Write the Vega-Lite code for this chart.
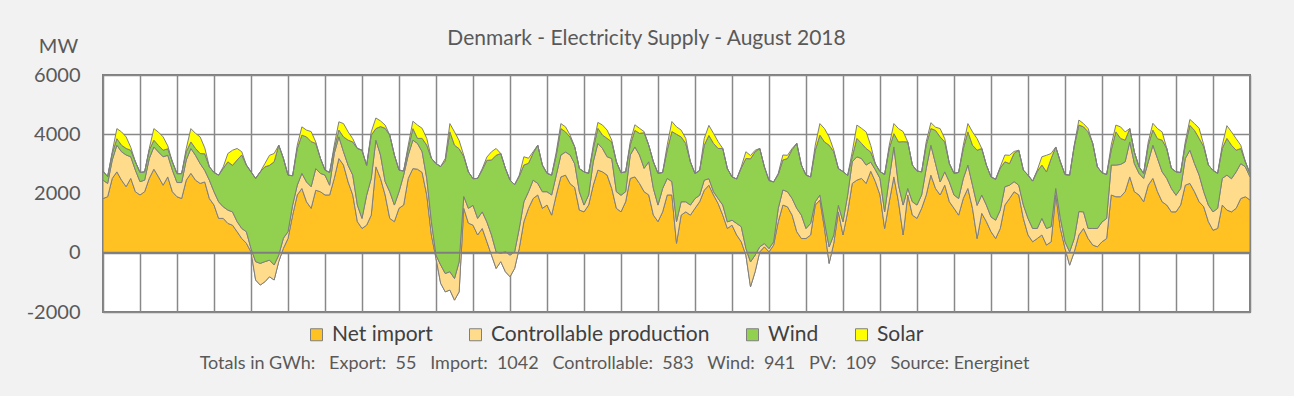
{
  "$schema": "https://vega.github.io/schema/vega-lite/v6.json",
  "width": 1147,
  "height": 237,
  "autosize": {"type": "none"},
  "padding": {"left": 103, "top": 75, "right": 44, "bottom": 84},
  "background": "#f2f2f2",
  "title": {"text": "Denmark - Electricity Supply - August 2018", "font": "Lato", "fontSize": 21, "fontWeight": "normal", "color": "#595959", "anchor": "middle", "offset": 0, "dy": 13, "dx": -30},
  "data": {"values": [
    {"hour":0,"imp":1830,"ctrl":620,"wind":300,"pv":0},
    {"hour":3,"imp":1890,"ctrl":450,"wind":230,"pv":0},
    {"hour":6,"imp":2510,"ctrl":620,"wind":220,"pv":60},
    {"hour":9,"imp":2730,"ctrl":900,"wind":220,"pv":340},
    {"hour":12,"imp":2450,"ctrl":960,"wind":220,"pv":450},
    {"hour":15,"imp":2230,"ctrl":1070,"wind":220,"pv":390},
    {"hour":18,"imp":2510,"ctrl":730,"wind":220,"pv":100},
    {"hour":21,"imp":2060,"ctrl":730,"wind":280,"pv":0},
    {"hour":24,"imp":1950,"ctrl":450,"wind":310,"pv":0},
    {"hour":27,"imp":2060,"ctrl":390,"wind":280,"pv":0},
    {"hour":30,"imp":2510,"ctrl":670,"wind":280,"pv":60},
    {"hour":33,"imp":2820,"ctrl":750,"wind":230,"pv":390},
    {"hour":36,"imp":2560,"ctrl":840,"wind":220,"pv":450},
    {"hour":39,"imp":2280,"ctrl":960,"wind":220,"pv":450},
    {"hour":42,"imp":2560,"ctrl":730,"wind":220,"pv":100},
    {"hour":45,"imp":2060,"ctrl":730,"wind":280,"pv":0},
    {"hour":48,"imp":1890,"ctrl":480,"wind":300,"pv":0},
    {"hour":51,"imp":1830,"ctrl":540,"wind":300,"pv":0},
    {"hour":54,"imp":2450,"ctrl":680,"wind":280,"pv":110},
    {"hour":57,"imp":2680,"ctrl":840,"wind":220,"pv":450},
    {"hour":60,"imp":2450,"ctrl":840,"wind":230,"pv":510},
    {"hour":63,"imp":2340,"ctrl":670,"wind":340,"pv":560},
    {"hour":66,"imp":2390,"ctrl":390,"wind":560,"pv":200},
    {"hour":69,"imp":1830,"ctrl":620,"wind":450,"pv":0},
    {"hour":72,"imp":1610,"ctrl":450,"wind":650,"pv":0},
    {"hour":75,"imp":1160,"ctrl":560,"wind":900,"pv":0},
    {"hour":78,"imp":1160,"ctrl":390,"wind":1300,"pv":50},
    {"hour":81,"imp":990,"ctrl":450,"wind":1630,"pv":280},
    {"hour":84,"imp":930,"ctrl":450,"wind":1570,"pv":510},
    {"hour":87,"imp":710,"ctrl":340,"wind":2080,"pv":390},
    {"hour":90,"imp":480,"ctrl":340,"wind":2480,"pv":110},
    {"hour":93,"imp":320,"ctrl":390,"wind":2250,"pv":0},
    {"hour":96,"imp":30,"ctrl":110,"wind":2590,"pv":0},
    {"hour":99,"imp":-920,"ctrl":620,"wind":2810,"pv":0},
    {"hour":102,"imp":-1090,"ctrl":730,"wind":3090,"pv":0},
    {"hour":105,"imp":-980,"ctrl":680,"wind":3200,"pv":110},
    {"hour":108,"imp":-810,"ctrl":560,"wind":3200,"pv":340},
    {"hour":111,"imp":-920,"ctrl":510,"wind":3480,"pv":280},
    {"hour":114,"imp":-300,"ctrl":220,"wind":3710,"pv":0},
    {"hour":117,"imp":150,"ctrl":340,"wind":2700,"pv":0},
    {"hour":120,"imp":480,"ctrl":230,"wind":1910,"pv":0},
    {"hour":123,"imp":1270,"ctrl":340,"wind":990,"pv":0},
    {"hour":126,"imp":1950,"ctrl":330,"wind":1240,"pv":110},
    {"hour":129,"imp":2170,"ctrl":510,"wind":1290,"pv":280},
    {"hour":132,"imp":1720,"ctrl":670,"wind":1520,"pv":230},
    {"hour":135,"imp":1500,"ctrl":730,"wind":1520,"pv":340},
    {"hour":138,"imp":2110,"ctrl":730,"wind":850,"pv":50},
    {"hour":141,"imp":2060,"ctrl":620,"wind":510,"pv":0},
    {"hour":144,"imp":1950,"ctrl":670,"wind":170,"pv":0},
    {"hour":147,"imp":1950,"ctrl":330,"wind":430,"pv":0},
    {"hour":150,"imp":2510,"ctrl":840,"wind":170,"pv":110},
    {"hour":153,"imp":3180,"ctrl":730,"wind":230,"pv":280},
    {"hour":156,"imp":2960,"ctrl":450,"wind":500,"pv":450},
    {"hour":159,"imp":2390,"ctrl":560,"wind":850,"pv":280},
    {"hour":162,"imp":1950,"ctrl":670,"wind":1120,"pv":110},
    {"hour":165,"imp":1050,"ctrl":560,"wind":1910,"pv":0},
    {"hour":168,"imp":820,"ctrl":340,"wind":2300,"pv":0},
    {"hour":171,"imp":930,"ctrl":1010,"wind":1010,"pv":0},
    {"hour":174,"imp":1270,"ctrl":1240,"wind":1460,"pv":110},
    {"hour":177,"imp":2900,"ctrl":900,"wind":390,"pv":360},
    {"hour":180,"imp":2510,"ctrl":790,"wind":960,"pv":190},
    {"hour":183,"imp":1950,"ctrl":450,"wind":1800,"pv":110},
    {"hour":186,"imp":1160,"ctrl":900,"wind":1910,"pv":0},
    {"hour":189,"imp":1050,"ctrl":560,"wind":1690,"pv":0},
    {"hour":192,"imp":1500,"ctrl":560,"wind":730,"pv":0},
    {"hour":195,"imp":1610,"ctrl":1010,"wind":140,"pv":0},
    {"hour":198,"imp":2510,"ctrl":790,"wind":220,"pv":110},
    {"hour":201,"imp":2840,"ctrl":960,"wind":390,"pv":250},
    {"hour":204,"imp":2820,"ctrl":870,"wind":170,"pv":450},
    {"hour":207,"imp":2710,"ctrl":700,"wind":450,"pv":340},
    {"hour":210,"imp":1950,"ctrl":560,"wind":1120,"pv":230},
    {"hour":213,"imp":600,"ctrl":450,"wind":2140,"pv":0},
    {"hour":216,"imp":-190,"ctrl":110,"wind":3090,"pv":0},
    {"hour":219,"imp":-1030,"ctrl":620,"wind":3320,"pv":0},
    {"hour":222,"imp":-1320,"ctrl":620,"wind":3800,"pv":80},
    {"hour":225,"imp":-1260,"ctrl":620,"wind":4720,"pv":280},
    {"hour":228,"imp":-1600,"ctrl":730,"wind":4500,"pv":450},
    {"hour":231,"imp":-1320,"ctrl":1010,"wind":3820,"pv":280},
    {"hour":234,"imp":1500,"ctrl":400,"wind":1350,"pv":40},
    {"hour":237,"imp":1000,"ctrl":500,"wind":1230,"pv":0},
    {"hour":240,"imp":930,"ctrl":670,"wind":900,"pv":0},
    {"hour":243,"imp":600,"ctrl":560,"wind":1350,"pv":0},
    {"hour":246,"imp":820,"ctrl":560,"wind":1420,"pv":40},
    {"hour":249,"imp":370,"ctrl":670,"wind":2080,"pv":110},
    {"hour":252,"imp":-80,"ctrl":680,"wind":2530,"pv":280},
    {"hour":255,"imp":-530,"ctrl":560,"wind":3260,"pv":230},
    {"hour":258,"imp":-300,"ctrl":280,"wind":3370,"pv":0},
    {"hour":261,"imp":-640,"ctrl":680,"wind":2810,"pv":0},
    {"hour":264,"imp":-810,"ctrl":730,"wind":2530,"pv":0},
    {"hour":267,"imp":-530,"ctrl":560,"wind":2270,"pv":0},
    {"hour":270,"imp":150,"ctrl":670,"wind":1760,"pv":40},
    {"hour":273,"imp":1050,"ctrl":670,"wind":1240,"pv":280},
    {"hour":276,"imp":1500,"ctrl":560,"wind":960,"pv":170},
    {"hour":279,"imp":1830,"ctrl":620,"wind":910,"pv":50},
    {"hour":282,"imp":1950,"ctrl":390,"wind":1290,"pv":0},
    {"hour":285,"imp":1500,"ctrl":560,"wind":900,"pv":0},
    {"hour":288,"imp":1610,"ctrl":450,"wind":620,"pv":0},
    {"hour":291,"imp":1270,"ctrl":680,"wind":670,"pv":0},
    {"hour":294,"imp":1950,"ctrl":670,"wind":670,"pv":110},
    {"hour":297,"imp":2560,"ctrl":740,"wind":890,"pv":170},
    {"hour":300,"imp":2620,"ctrl":780,"wind":680,"pv":170},
    {"hour":303,"imp":2330,"ctrl":970,"wind":600,"pv":70},
    {"hour":306,"imp":2200,"ctrl":800,"wind":570,"pv":0},
    {"hour":309,"imp":1440,"ctrl":620,"wind":780,"pv":0},
    {"hour":312,"imp":1380,"ctrl":230,"wind":1120,"pv":0},
    {"hour":315,"imp":1610,"ctrl":340,"wind":730,"pv":0},
    {"hour":318,"imp":2280,"ctrl":790,"wind":450,"pv":110},
    {"hour":321,"imp":2790,"ctrl":900,"wind":510,"pv":200},
    {"hour":324,"imp":2730,"ctrl":790,"wind":450,"pv":340},
    {"hour":327,"imp":2620,"ctrl":620,"wind":620,"pv":280},
    {"hour":330,"imp":2170,"ctrl":1010,"wind":560,"pv":60},
    {"hour":333,"imp":1500,"ctrl":560,"wind":1010,"pv":0},
    {"hour":336,"imp":1380,"ctrl":560,"wind":760,"pv":0},
    {"hour":339,"imp":1720,"ctrl":340,"wind":670,"pv":0},
    {"hour":342,"imp":2510,"ctrl":790,"wind":340,"pv":110},
    {"hour":345,"imp":2560,"ctrl":1010,"wind":560,"pv":190},
    {"hour":348,"imp":2340,"ctrl":960,"wind":730,"pv":170},
    {"hour":351,"imp":2060,"ctrl":790,"wind":1200,"pv":40},
    {"hour":354,"imp":1950,"ctrl":1120,"wind":560,"pv":0},
    {"hour":357,"imp":1270,"ctrl":900,"wind":900,"pv":0},
    {"hour":360,"imp":1050,"ctrl":560,"wind":1070,"pv":0},
    {"hour":363,"imp":1380,"ctrl":790,"wind":540,"pv":0},
    {"hour":366,"imp":1950,"ctrl":560,"wind":960,"pv":170},
    {"hour":369,"imp":1950,"ctrl":450,"wind":1690,"pv":340},
    {"hour":372,"imp":320,"ctrl":730,"wind":2950,"pv":250},
    {"hour":375,"imp":1270,"ctrl":450,"wind":2190,"pv":230},
    {"hour":378,"imp":1380,"ctrl":340,"wind":1970,"pv":170},
    {"hour":381,"imp":1270,"ctrl":340,"wind":1460,"pv":0},
    {"hour":384,"imp":1500,"ctrl":330,"wind":840,"pv":0},
    {"hour":387,"imp":1720,"ctrl":220,"wind":840,"pv":0},
    {"hour":390,"imp":2110,"ctrl":340,"wind":1180,"pv":230},
    {"hour":393,"imp":2280,"ctrl":220,"wind":1460,"pv":340},
    {"hour":396,"imp":1950,"ctrl":110,"wind":1630,"pv":340},
    {"hour":399,"imp":1660,"ctrl":170,"wind":1690,"pv":230},
    {"hour":402,"imp":1270,"ctrl":340,"wind":1910,"pv":0},
    {"hour":405,"imp":820,"ctrl":220,"wind":1800,"pv":0},
    {"hour":408,"imp":930,"ctrl":170,"wind":1460,"pv":0},
    {"hour":411,"imp":600,"ctrl":390,"wind":1500,"pv":0},
    {"hour":414,"imp":370,"ctrl":510,"wind":1980,"pv":40},
    {"hour":417,"imp":-80,"ctrl":230,"wind":3030,"pv":230},
    {"hour":420,"imp":-1150,"ctrl":840,"wind":3480,"pv":110},
    {"hour":423,"imp":-640,"ctrl":560,"wind":3490,"pv":50},
    {"hour":426,"imp":30,"ctrl":170,"wind":3320,"pv":0},
    {"hour":429,"imp":200,"ctrl":110,"wind":2590,"pv":0},
    {"hour":432,"imp":30,"ctrl":110,"wind":2300,"pv":0},
    {"hour":435,"imp":260,"ctrl":110,"wind":2020,"pv":0},
    {"hour":438,"imp":1050,"ctrl":450,"wind":1140,"pv":40},
    {"hour":441,"imp":1610,"ctrl":510,"wind":1010,"pv":170},
    {"hour":444,"imp":1550,"ctrl":510,"wind":1120,"pv":110},
    {"hour":447,"imp":1270,"ctrl":560,"wind":1650,"pv":40},
    {"hour":450,"imp":710,"ctrl":790,"wind":2190,"pv":0},
    {"hour":453,"imp":480,"ctrl":790,"wind":1690,"pv":0},
    {"hour":456,"imp":480,"ctrl":340,"wind":1800,"pv":0},
    {"hour":459,"imp":600,"ctrl":390,"wind":1570,"pv":0},
    {"hour":462,"imp":1610,"ctrl":110,"wind":1740,"pv":170},
    {"hour":465,"imp":1780,"ctrl":170,"wind":2020,"pv":390},
    {"hour":468,"imp":820,"ctrl":220,"wind":2700,"pv":450},
    {"hour":471,"imp":-360,"ctrl":560,"wind":3430,"pv":280},
    {"hour":474,"imp":320,"ctrl":280,"wind":2810,"pv":60},
    {"hour":477,"imp":1380,"ctrl":220,"wind":1240,"pv":0},
    {"hour":480,"imp":600,"ctrl":450,"wind":1690,"pv":0},
    {"hour":483,"imp":1380,"ctrl":560,"wind":670,"pv":0},
    {"hour":486,"imp":2340,"ctrl":730,"wind":170,"pv":170},
    {"hour":489,"imp":2450,"ctrl":790,"wind":620,"pv":450},
    {"hour":492,"imp":2510,"ctrl":670,"wind":510,"pv":510},
    {"hour":495,"imp":2340,"ctrl":620,"wind":560,"pv":560},
    {"hour":498,"imp":2750,"ctrl":310,"wind":340,"pv":220},
    {"hour":501,"imp":2400,"ctrl":400,"wind":200,"pv":0},
    {"hour":504,"imp":1950,"ctrl":560,"wind":230,"pv":0},
    {"hour":507,"imp":820,"ctrl":560,"wind":1260,"pv":0},
    {"hour":510,"imp":1720,"ctrl":790,"wind":1010,"pv":110},
    {"hour":513,"imp":2560,"ctrl":1010,"wind":450,"pv":340},
    {"hour":516,"imp":1720,"ctrl":560,"wind":1460,"pv":450},
    {"hour":519,"imp":600,"ctrl":1010,"wind":2140,"pv":340},
    {"hour":522,"imp":1950,"ctrl":220,"wind":1570,"pv":0},
    {"hour":525,"imp":1270,"ctrl":450,"wind":1240,"pv":0},
    {"hour":528,"imp":1160,"ctrl":450,"wind":1150,"pv":0},
    {"hour":531,"imp":1500,"ctrl":450,"wind":780,"pv":0},
    {"hour":534,"imp":1950,"ctrl":900,"wind":790,"pv":110},
    {"hour":537,"imp":2620,"ctrl":1010,"wind":560,"pv":200},
    {"hour":540,"imp":2170,"ctrl":840,"wind":1120,"pv":110},
    {"hour":543,"imp":1950,"ctrl":440,"wind":1520,"pv":280},
    {"hour":546,"imp":2280,"ctrl":450,"wind":1010,"pv":110},
    {"hour":549,"imp":1720,"ctrl":670,"wind":620,"pv":0},
    {"hour":552,"imp":1500,"ctrl":450,"wind":730,"pv":0},
    {"hour":555,"imp":1270,"ctrl":560,"wind":880,"pv":0},
    {"hour":558,"imp":1830,"ctrl":670,"wind":1010,"pv":110},
    {"hour":561,"imp":2170,"ctrl":790,"wind":1120,"pv":280},
    {"hour":564,"imp":1500,"ctrl":780,"wind":1350,"pv":450},
    {"hour":567,"imp":480,"ctrl":1120,"wind":1860,"pv":390},
    {"hour":570,"imp":1330,"ctrl":620,"wind":1570,"pv":0},
    {"hour":573,"imp":1050,"ctrl":560,"wind":1350,"pv":0},
    {"hour":576,"imp":710,"ctrl":500,"wind":1350,"pv":0},
    {"hour":579,"imp":480,"ctrl":620,"wind":1380,"pv":0},
    {"hour":582,"imp":820,"ctrl":620,"wind":1420,"pv":40},
    {"hour":585,"imp":1610,"ctrl":620,"wind":840,"pv":230},
    {"hour":588,"imp":1830,"ctrl":450,"wind":730,"pv":280},
    {"hour":591,"imp":2060,"ctrl":340,"wind":960,"pv":60},
    {"hour":594,"imp":1950,"ctrl":330,"wind":1180,"pv":0},
    {"hour":597,"imp":1160,"ctrl":450,"wind":1180,"pv":0},
    {"hour":600,"imp":600,"ctrl":560,"wind":1460,"pv":0},
    {"hour":603,"imp":370,"ctrl":450,"wind":1600,"pv":0},
    {"hour":606,"imp":480,"ctrl":340,"wind":1930,"pv":40},
    {"hour":609,"imp":600,"ctrl":560,"wind":1800,"pv":280},
    {"hour":612,"imp":260,"ctrl":560,"wind":1910,"pv":560},
    {"hour":615,"imp":370,"ctrl":510,"wind":2300,"pv":170},
    {"hour":618,"imp":1950,"ctrl":220,"wind":1400,"pv":0},
    {"hour":621,"imp":820,"ctrl":340,"wind":1910,"pv":0},
    {"hour":624,"imp":150,"ctrl":220,"wind":2270,"pv":0},
    {"hour":627,"imp":-420,"ctrl":450,"wind":2590,"pv":0},
    {"hour":630,"imp":30,"ctrl":450,"wind":3120,"pv":30},
    {"hour":633,"imp":600,"ctrl":790,"wind":2920,"pv":170},
    {"hour":636,"imp":820,"ctrl":560,"wind":2870,"pv":110},
    {"hour":639,"imp":480,"ctrl":340,"wind":3260,"pv":110},
    {"hour":642,"imp":260,"ctrl":560,"wind":2870,"pv":0},
    {"hour":645,"imp":200,"ctrl":620,"wind":2080,"pv":0},
    {"hour":648,"imp":370,"ctrl":670,"wind":1660,"pv":0},
    {"hour":651,"imp":480,"ctrl":680,"wind":1480,"pv":0},
    {"hour":654,"imp":1950,"ctrl":1010,"wind":510,"pv":170},
    {"hour":657,"imp":1890,"ctrl":1070,"wind":1120,"pv":230},
    {"hour":660,"imp":1890,"ctrl":1090,"wind":880,"pv":390},
    {"hour":663,"imp":2060,"ctrl":1010,"wind":730,"pv":280},
    {"hour":666,"imp":2560,"ctrl":1180,"wind":450,"pv":0},
    {"hour":669,"imp":2060,"ctrl":950,"wind":390,"pv":0},
    {"hour":672,"imp":1950,"ctrl":730,"wind":220,"pv":0},
    {"hour":675,"imp":1720,"ctrl":790,"wind":170,"pv":0},
    {"hour":678,"imp":2280,"ctrl":790,"wind":560,"pv":110},
    {"hour":681,"imp":2510,"ctrl":1120,"wind":510,"pv":230},
    {"hour":684,"imp":2060,"ctrl":1120,"wind":670,"pv":340},
    {"hour":687,"imp":1720,"ctrl":1010,"wind":1070,"pv":280},
    {"hour":690,"imp":1610,"ctrl":900,"wind":1010,"pv":0},
    {"hour":693,"imp":1380,"ctrl":790,"wind":680,"pv":0},
    {"hour":696,"imp":1380,"ctrl":560,"wind":790,"pv":0},
    {"hour":699,"imp":1610,"ctrl":560,"wind":540,"pv":0},
    {"hour":702,"imp":2280,"ctrl":900,"wind":450,"pv":110},
    {"hour":705,"imp":2340,"ctrl":1120,"wind":840,"pv":200},
    {"hour":708,"imp":2060,"ctrl":950,"wind":1120,"pv":230},
    {"hour":711,"imp":1720,"ctrl":900,"wind":1240,"pv":340},
    {"hour":714,"imp":1550,"ctrl":510,"wind":1520,"pv":60},
    {"hour":717,"imp":1050,"ctrl":560,"wind":1350,"pv":0},
    {"hour":720,"imp":760,"ctrl":620,"wind":1400,"pv":0},
    {"hour":723,"imp":820,"ctrl":680,"wind":1180,"pv":0},
    {"hour":726,"imp":1610,"ctrl":900,"wind":1010,"pv":110},
    {"hour":729,"imp":1440,"ctrl":1180,"wind":1240,"pv":430},
    {"hour":732,"imp":1380,"ctrl":1120,"wind":1130,"pv":450},
    {"hour":735,"imp":1500,"ctrl":1230,"wind":730,"pv":390},
    {"hour":738,"imp":1830,"ctrl":1180,"wind":510,"pv":110},
    {"hour":741,"imp":1890,"ctrl":1010,"wind":170,"pv":0},
    {"hour":744,"imp":1780,"ctrl":780,"wind":110,"pv":0}
  ]},
  "layer": [
    {
      "transform": [
        {"fold": ["imp", "ctrl", "wind", "pv"], "as": ["key", "value"]},
        {"window": [{"op": "sum", "field": "value", "as": "top"}], "groupby": ["hour"], "frame": [null, 0]},
        {"window": [{"op": "lag", "field": "top", "param": 1, "as": "bot"}], "groupby": ["hour"]}
      ],
      "encoding": {
        "x": {"field": "hour", "type": "quantitative", "scale": {"domain": [0, 744], "nice": false, "zero": false},
          "axis": {"values": [0,24,48,72,96,120,144,168,192,216,240,264,288,312,336,360,384,408,432,456,480,504,528,552,576,600,624,648,672,696,720,744],
            "labels": false, "ticks": false, "domain": false, "grid": true, "gridColor": "#888888", "gridWidth": 1.5,
            "title": "Totals in GWh:\u00a0\u00a0 Export:\u00a0 55\u00a0\u00a0 Import:\u00a0 1042\u00a0\u00a0 Controllable:\u00a0 583\u00a0\u00a0 Wind:\u00a0 941\u00a0\u00a0 PV:\u00a0 109\u00a0\u00a0 Source: Energinet",
            "titleFont": "Lato", "titleFontSize": 18, "titleFontWeight": "normal", "titleColor": "#595959",
            "titleX": 511, "titleY": 56, "titleAlign": "center", "titleBaseline": "alphabetic", "titleAnchor": null}},
        "y": {"field": "top", "type": "quantitative", "stack": null, "scale": {"domain": [-2000, 6000], "nice": false},
          "axis": {"values": [-2000,-1000,0,1000,2000,3000,4000,5000,6000], "labelExpr": "datum.value < 0 ? '-' + abs(datum.value) : '' + datum.value", "labelOverlap": false, "ticks": false, "domain": false, "grid": true,
            "gridColor": "#888888", "gridWidth": 1.5, "labelFont": "Lato", "labelFontSize": 20, "labelColor": "#595959", "labelPadding": 23,
            "title": "MW", "titleAngle": 0, "titleFont": "Lato", "titleFontSize": 20, "titleFontWeight": "normal", "titleColor": "#595959",
            "titleX": -45, "titleY": -23, "titleAlign": "center", "titleBaseline": "alphabetic"}},
        "color": {"field": "key", "type": "nominal",
          "scale": {"domain": ["imp", "ctrl", "wind", "pv"], "range": ["#ffc222", "#ffdc8c", "#92d050", "#ffff00"]},
          "legend": {"orient": "none", "legendX": 203, "legendY": 249, "direction": "horizontal", "title": null, "padding": 0,
            "symbolType": "square", "symbolSize": 144, "symbolStrokeColor": "#7f7f7f", "symbolStrokeWidth": 1, "symbolOpacity": 1,
            "labelFont": "Lato", "labelFontSize": 21, "labelColor": "#404040", "labelOffset": 5, "labelLimit": 400, "columnPadding": 32,
            "labelExpr": "datum.label == 'imp' ? 'Net import' : datum.label == 'ctrl' ? 'Controllable production' : datum.label == 'wind' ? 'Wind' : 'Solar'",
            "encode": {"symbols": {"update": {"stroke": {"value": "#7f7f7f"}, "strokeWidth": {"value": 1}}}}}}
      },
      "layer": [
        {"transform": [{"filter": "datum.key === 'imp'"}], "mark": {"type": "area", "stroke": "#7f7f7f", "strokeWidth": 1, "opacity": 1},
          "encoding": {"y2": {"datum": 0}}},
        {"transform": [{"filter": "datum.key === 'ctrl'"}], "mark": {"type": "area", "stroke": "#7f7f7f", "strokeWidth": 1, "opacity": 1},
          "encoding": {"y2": {"field": "bot"}}},
        {"transform": [{"filter": "datum.key === 'wind'"}], "mark": {"type": "area", "stroke": "#7f7f7f", "strokeWidth": 1, "opacity": 1},
          "encoding": {"y2": {"field": "bot"}}},
        {"transform": [{"filter": "datum.key === 'pv'"}], "mark": {"type": "area", "stroke": "#7f7f7f", "strokeWidth": 1, "opacity": 1},
          "encoding": {"y2": {"field": "bot"}}}
      ]
    },
    {
      "data": {"values": [{"level": 0}]},
      "mark": {"type": "rule", "color": "#7f7f7f", "strokeWidth": 2},
      "encoding": {"y": {"field": "level", "type": "quantitative"}}
    }
  ],
  "config": {
    "view": {"stroke": "#7f7f7f", "strokeWidth": 2, "fill": "#ffffff"},
    "font": "Lato"
  }
}
